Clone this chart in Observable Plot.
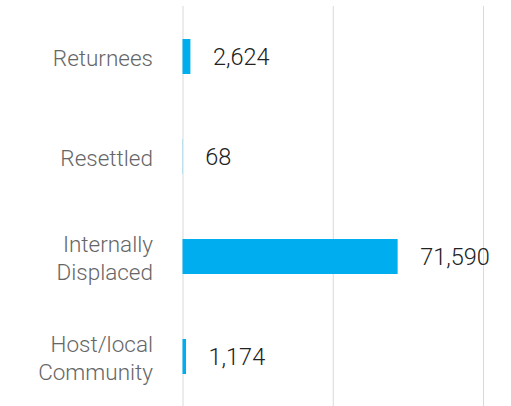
<!DOCTYPE html>
<html>
<head>
<meta charset="utf-8">
<script src="https://cdn.jsdelivr.net/npm/d3@7"></script>
<script src="https://cdn.jsdelivr.net/npm/@observablehq/plot@0.6"></script>
<style>
  html, body { margin: 0; padding: 0; background: #fff; }
  #chart svg { display: block; font-family: Roboto, "Noto Sans", sans-serif; font-weight: 300; }
</style>
</head>
<body>
<div id="chart"></div>
<script>
const categories = ["Returnees", "Resettled", "Internally Displaced", "Host/local Community"];
const tickLabels = ["Returnees", "Resettled", "Internally\nDisplaced", "Host/local\nCommunity"];
const values = [2624, 68, 71590, 1174];
const gridTicks = [0, 50000, 100000];

const data = categories.map((c, i) => ({category: c, value: values[i]}));
const labelOf = new Map(categories.map((c, i) => [c, tickLabels[i]]));

const chart = Plot.plot({
  width: 511,
  height: 406,
  marginTop: 6,
  marginBottom: 0,
  marginLeft: 182.5,
  marginRight: 28,
  x: {domain: [0, 100000], axis: null},
  y: {domain: categories, paddingInner: 0.65, paddingOuter: 0.325, axis: null},
  marks: [
    Plot.gridX(gridTicks, {stroke: "#d9d9d9", strokeOpacity: 1, strokeWidth: 1}),
    Plot.barX(data, {y: "category", x: "value", fill: "#00aeef"}),
    Plot.text(data, {
      y: "category", x: "value", text: d => d3.format(",")(d.value),
      textAnchor: "start", dx: 22, fontSize: 23.5, fill: "#222"
    }),
    Plot.axisY({
      label: null, tickSize: 0, tickPadding: 30, fontSize: 22.5, lineHeight: 1.25,
      tickFormat: d => labelOf.get(d), color: "#666", fill: "#666"
    })
  ]
});
document.getElementById("chart").appendChild(chart);
</script>
</body>
</html>
